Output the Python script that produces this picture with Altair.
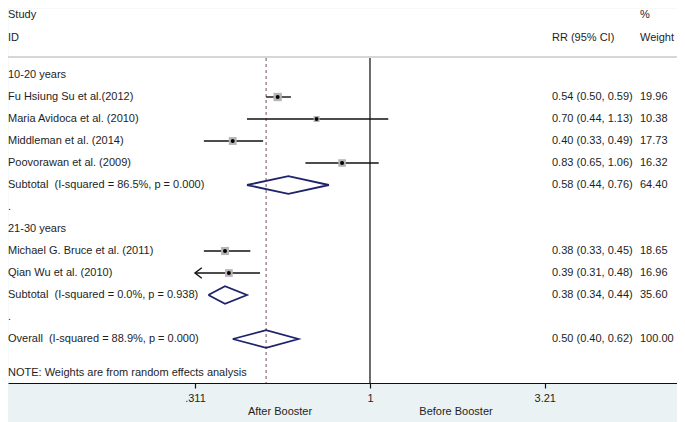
import altair as alt
import pandas as pd

# ---------------- data ----------------
study_labels = [
    "Fu Hsiung Su et al.(2012)",
    "Maria Avidoca et al. (2010)",
    "Middleman et al. (2014)",
    "Poovorawan et al. (2009)",
    "Michael G. Bruce et al. (2011)",
    "Qian Wu et al. (2010)",
]
study_rows = [1, 2, 3, 4, 8, 9]
study_rr = [0.54, 0.70, 0.40, 0.83, 0.38, 0.39]
study_lo = [0.50, 0.44, 0.33, 0.65, 0.33, 0.31]
study_hi = [0.59, 1.13, 0.49, 1.06, 0.45, 0.48]
study_weight = [19.96, 10.38, 17.73, 16.32, 18.65, 16.96]

sum_labels = [
    "Subtotal\u00a0 (I-squared = 86.5%, p = 0.000)",
    "Subtotal\u00a0 (I-squared = 0.0%, p = 0.938)",
    "Overall\u00a0 (I-squared = 88.9%, p = 0.000)",
]
sum_rows = [5, 10, 12]
sum_rr = [0.58, 0.38, 0.50]
sum_lo = [0.44, 0.34, 0.40]
sum_hi = [0.76, 0.44, 0.62]
sum_weight = [64.40, 35.60, 100.00]

group_labels = ["10-20 years", ".", "21-30 years", "."]
group_rows = [0, 6, 7, 11]

note_text = "NOTE: Weights are from random effects analysis"
note_row = 13.55

header_rows = [-2.72, -1.66]
header_left = ["Study", "ID"]
header_rr = ["", "RR (95% CI)"]
header_weight = ["%", "Weight"]

axis_min = 0.311
tick_values = [0.311, 1, 3.21]
tick_labels = [".311", "1", "3.21"]
side_labels = ["After Booster", "Before Booster"]

# ---------------- layout constants ----------------
W, H = 669, 375
FONT = "Liberation Sans"
FS = 11
TXT = "#1e1e1e"
X_LEFT, X_RR, X_WT = 0, 544, 632
SIDE_X = [272, 448]
top_line_row = -0.82
line_top_row = -0.77
y_dom = [-3.0455, 14.0]
x_dom = [0.08928, 7.761]

xscale = alt.Scale(type="log", domain=x_dom, nice=False)
yscale = alt.Scale(domain=y_dom, reverse=True, nice=False, zero=False)

label_expr = " : ".join(
    [f"datum.value == {v} ? '{t}'" for v, t in zip(tick_values, tick_labels)]
) + " : ''"

xaxis = alt.Axis(values=tick_values, labelExpr=label_expr, title=None, grid=False,
                 domainColor="#111", domainWidth=1.2, tickColor="#111", tickSize=5,
                 tickWidth=1.2, labelFont=FONT, labelFontSize=FS, labelColor=TXT,
                 labelPadding=4, labelFlush=False)


def X(field):
    return alt.X(field, type="quantitative", scale=xscale, axis=xaxis)


def Y(field="row"):
    return alt.Y(field, type="quantitative", scale=yscale, axis=None)


# ---------------- frames ----------------
studies = pd.DataFrame({
    "label": study_labels, "row": study_rows, "rr": study_rr,
    "lo": study_lo, "hi": study_hi, "weight": study_weight,
})
studies["lo_c"] = studies["lo"].clip(lower=axis_min)
arrows = studies[studies["lo"] < axis_min].copy()
arrows["x"] = axis_min

diam_rows = []
for g, (r, e, l, h) in enumerate(zip(sum_rows, sum_rr, sum_lo, sum_hi)):
    pts = [(l, r), (e, r - 0.4), (h, r), (e, r + 0.4), (l, r)]
    for k, (px, py) in enumerate(pts):
        diam_rows.append({"g": g, "k": k, "x": px, "row": py})
diamonds = pd.DataFrame(diam_rows)

left_text = pd.DataFrame({
    "row": header_rows + group_rows + study_rows + sum_rows + [note_row],
    "text": header_left + group_labels + study_labels + sum_labels + [note_text],
})
rr_text = pd.DataFrame({
    "row": header_rows + study_rows + sum_rows,
    "text": header_rr
    + [f"{a:.2f} ({b:.2f}, {c:.2f})" for a, b, c in zip(study_rr, study_lo, study_hi)]
    + [f"{a:.2f} ({b:.2f}, {c:.2f})" for a, b, c in zip(sum_rr, sum_lo, sum_hi)],
})
wt_text = pd.DataFrame({
    "row": header_rows + study_rows + sum_rows,
    "text": header_weight + [f"{w:.2f}" for w in study_weight] + [f"{w:.2f}" for w in sum_weight],
})

overall_rr = sum_rr[-1]
ref = pd.DataFrame({"x": [1.0, overall_rr], "row": [line_top_row] * 2, "row2": [y_dom[1]] * 2})

# ---------------- layers ----------------
top_line = alt.Chart(pd.DataFrame({"row": [top_line_row]})).mark_rule(
    color="#d6d6d6", strokeWidth=2).encode(y=Y())

null_line = alt.Chart(ref.iloc[[0]]).mark_rule(color="#5c5c5c", strokeWidth=1.8).encode(
    x=X("x"), y=Y(), y2=alt.Y2("row2"))

overall_line = alt.Chart(ref.iloc[[1]]).mark_rule(
    color="#a3889a", strokeWidth=1.5, strokeDash=[3, 3]).encode(
    x=X("x"), y=Y(), y2=alt.Y2("row2"))

ci = alt.Chart(studies).mark_rule(color="#111", strokeWidth=1.4).encode(
    x=X("lo_c"), x2=alt.X2("hi"), y=Y())

boxes = alt.Chart(studies).mark_square(color="#b5b5b5", opacity=1).encode(
    x=X("rr"), y=Y(),
    size=alt.Size("weight:Q", scale=alt.Scale(domain=[0, 20], range=[0, 70]), legend=None))

dots = alt.Chart(studies).mark_point(filled=True, color="#000", size=16, opacity=1).encode(
    x=X("rr"), y=Y())

arrow = alt.Chart(arrows).mark_point(
    shape="M 1.3 -1 L 0 0 L 1.3 1", filled=False, color="#111", size=110,
    strokeWidth=1.4, opacity=1).encode(x=X("x"), y=Y())

diamond = alt.Chart(diamonds).mark_line(color="#1f236b", strokeWidth=1.8).encode(
    x=X("x"), y=Y(), detail="g:N", order="k:Q")


def text_layer(df, xpos):
    return alt.Chart(df).mark_text(
        align="left", baseline="middle", font=FONT, fontSize=FS, color=TXT).encode(
        x=alt.value(xpos), y=Y(), text="text:N")


t_left = text_layer(left_text, X_LEFT)
t_rr = text_layer(rr_text, X_RR)
t_wt = text_layer(wt_text, X_WT)

side = alt.Chart(pd.DataFrame({"text": side_labels, "px": SIDE_X})).mark_text(
    align="center", baseline="middle", font=FONT, fontSize=FS, color=TXT).encode(
    x=alt.X("px:Q", scale=None), y=alt.value(404), text="text:N")

chart = alt.layer(
    top_line, null_line, overall_line, ci, boxes, dots, arrow, diamond,
    t_left, t_rr, t_wt, side,
).properties(
    width=W, height=H,
    autosize=alt.AutoSizeParams(type="none"),
    padding={"left": 0, "top": 0, "right": 0, "bottom": 39},
).configure(background="#eaf2f3").configure_view(fill="white", stroke="transparent")

chart.save("out.html", embed_options={"renderer": "svg", "actions": False})
